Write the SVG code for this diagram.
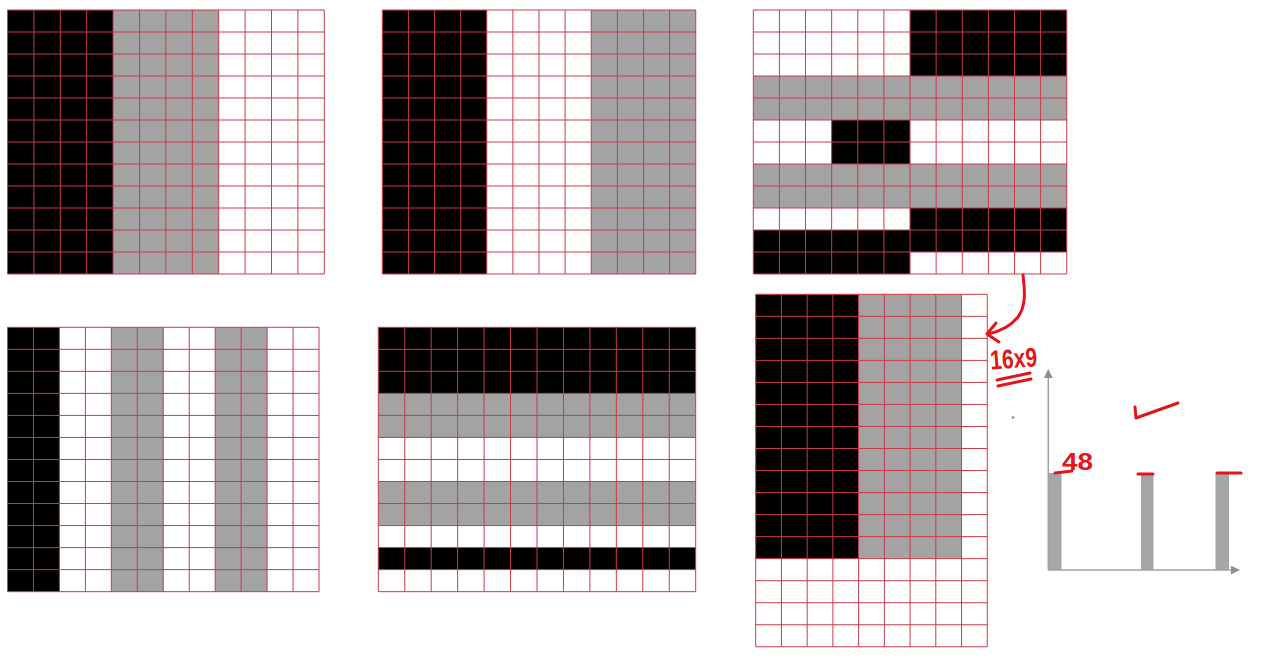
<svg xmlns="http://www.w3.org/2000/svg" width="1277" height="658" viewBox="0 0 1277 658">
<style>
.k{fill:#000}
.g{fill:#a3a3a3}
.ln{fill:none;stroke:#c93a4c;stroke-width:1;vector-effect:non-scaling-stroke}
.ax{fill:none;stroke:#a0a0a0;stroke-width:1.5}
.bar{fill:#a6a6a6}
.ink{fill:none;stroke:#e3141a;stroke-width:3;stroke-linecap:round;stroke-linejoin:round}
.hw{fill:#e3141a;font-family:"Liberation Sans Narrow","Liberation Sans",Arial,sans-serif;font-weight:bold}
</style>
<defs>
<marker id="ah" viewBox="0 0 10 10" refX="9" refY="5" markerWidth="9" markerHeight="9" markerUnits="userSpaceOnUse" orient="auto">
<path d="M0 0L10 5L0 10Z" fill="#909090"/>
</marker>
</defs>
<rect width="1277" height="658" fill="#fff"/>

<g id="grid1" transform="translate(7.5,10) scale(26.4,22)">
<rect x="0" y="0" width="4" height="12" class="k"/>
<rect x="4" y="0" width="4" height="12" class="g"/>
<path class="ln" d="M0 0V12M1 0V12M2 0V12M3 0V12M4 0V12M5 0V12M6 0V12M7 0V12M8 0V12M9 0V12M10 0V12M11 0V12M12 0V12M0 0H12M0 1H12M0 2H12M0 3H12M0 4H12M0 5H12M0 6H12M0 7H12M0 8H12M0 9H12M0 10H12M0 11H12M0 12H12"/>
</g>

<g id="grid2" transform="translate(382.3,10) scale(26.12,22)">
<rect x="0" y="0" width="4" height="12" class="k"/>
<rect x="8" y="0" width="4" height="12" class="g"/>
<path class="ln" d="M0 0V12M1 0V12M2 0V12M3 0V12M4 0V12M5 0V12M6 0V12M7 0V12M8 0V12M9 0V12M10 0V12M11 0V12M12 0V12M0 0H12M0 1H12M0 2H12M0 3H12M0 4H12M0 5H12M0 6H12M0 7H12M0 8H12M0 9H12M0 10H12M0 11H12M0 12H12"/>
</g>

<g id="grid3" transform="translate(753.3,10) scale(26.12,22)">
<rect x="6" y="0" width="6" height="3" class="k"/>
<rect x="0" y="3" width="12" height="2" class="g"/>
<rect x="3" y="5" width="3" height="2" class="k"/>
<rect x="0" y="7" width="12" height="2" class="g"/>
<rect x="6" y="9" width="6" height="2" class="k"/>
<rect x="0" y="10" width="6" height="2" class="k"/>
<path class="ln" d="M0 0V12M1 0V12M2 0V12M3 0V12M4 0V12M5 0V12M6 0V12M7 0V12M8 0V12M9 0V12M10 0V12M11 0V12M12 0V12M0 0H12M0 1H12M0 2H12M0 3H12M0 4H12M0 5H12M0 6H12M0 7H12M0 8H12M0 9H12M0 10H12M0 11H12M0 12H12"/>
</g>

<g id="grid4" transform="translate(7.5,327.3) scale(25.96,22.03)">
<rect x="0" y="0" width="2" height="12" class="k"/>
<rect x="4" y="0" width="2" height="12" class="g"/>
<rect x="8" y="0" width="2" height="12" class="g"/>
<path class="ln" d="M0 0V12M1 0V12M2 0V12M3 0V12M4 0V12M5 0V12M6 0V12M7 0V12M8 0V12M9 0V12M10 0V12M11 0V12M12 0V12M0 0H12M0 1H12M0 2H12M0 3H12M0 4H12M0 5H12M0 6H12M0 7H12M0 8H12M0 9H12M0 10H12M0 11H12M0 12H12"/>
</g>

<g id="grid5" transform="translate(378.3,327.3) scale(26.45,22.03)">
<rect x="0" y="0" width="12" height="3" class="k"/>
<rect x="0" y="3" width="12" height="2" class="g"/>
<rect x="0" y="7" width="12" height="2" class="g"/>
<rect x="0" y="10" width="12" height="1" class="k"/>
<path class="ln" d="M0 0V12M1 0V12M2 0V12M3 0V12M4 0V12M5 0V12M6 0V12M7 0V12M8 0V12M9 0V12M10 0V12M11 0V12M12 0V12M0 0H12M0 1H12M0 2H12M0 3H12M0 4H12M0 5H12M0 6H12M0 7H12M0 8H12M0 9H12M0 10H12M0 11H12M0 12H12"/>
</g>

<g id="grid6" transform="translate(755.7,294.3) scale(25.73,22.03)">
<rect x="0" y="0" width="4" height="12" class="k"/>
<rect x="4" y="0" width="4" height="12" class="g"/>
<path class="ln" d="M0 0V16M1 0V16M2 0V16M3 0V16M4 0V16M5 0V16M6 0V16M7 0V16M8 0V16M9 0V16M0 0H9M0 1H9M0 2H9M0 3H9M0 4H9M0 5H9M0 6H9M0 7H9M0 8H9M0 9H9M0 10H9M0 11H9M0 12H9M0 13H9M0 14H9M0 15H9M0 16H9"/>
</g>

<g id="chart">
<rect class="bar" x="1048" y="473" width="13.5" height="97"/>
<rect class="bar" x="1141" y="474" width="12.5" height="96"/>
<rect class="bar" x="1215.5" y="473" width="13.5" height="97"/>
<path class="ax" d="M1048.3 570V370" marker-end="url(#ah)"/>
<path class="ax" d="M1048.3 570H1239" marker-end="url(#ah)"/>
<path d="M1011.5 417.5h3M1013 416v3" stroke="#888" stroke-width="1.2"/>
</g>

<g id="connectors">
<path class="ink" d="M1023 275C1025 292 1026 306 1018 317C1010 327 998 332 988 334"/>
<path class="ink" d="M996 323L987 334L999 342"/>
<path class="ink" d="M997 380L1030 373M998 386L1031 379"/>
<path class="ink" d="M1135 407L1136 418L1178 403"/>
<path class="ink" d="M1055 473L1072 471"/>
<path class="ink" d="M1138 474H1153"/>
<path class="ink" d="M1217 473H1241"/>
</g>
<text class="hw" x="990" y="368" font-size="27" textLength="47" lengthAdjust="spacingAndGlyphs" transform="rotate(-4 1012 357)">16x9</text>
<text class="hw" x="1062" y="470" font-size="24" textLength="31" lengthAdjust="spacingAndGlyphs">48</text>
</svg>
